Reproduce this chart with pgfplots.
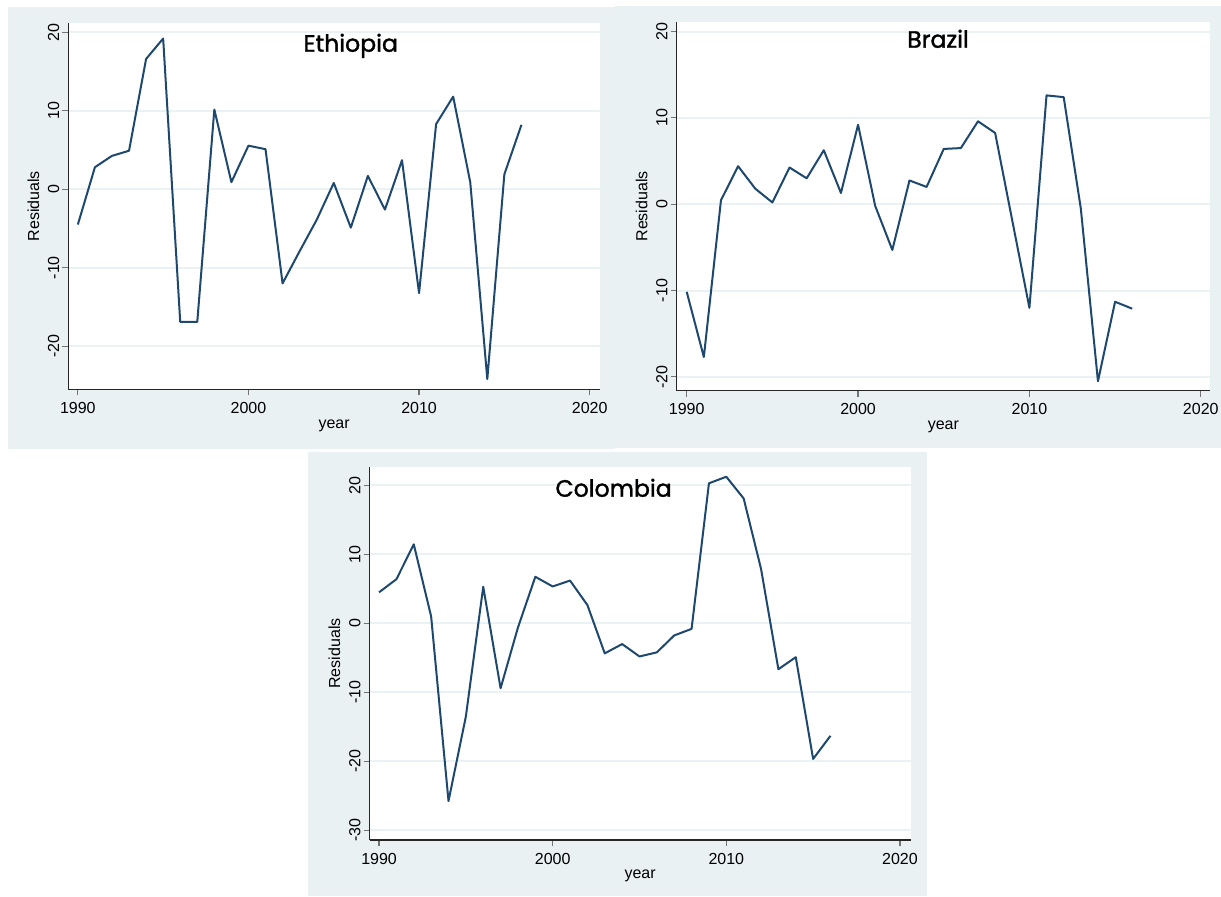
\documentclass[border=0pt]{standalone}
\usepackage{fontspec}
\setmainfont{Liberation Sans}
\newfontfamily\titlefont[FakeBold=1.5]{Poppins}
\usepackage{pgfplots}
\pgfplotsset{compat=1.18}
\definecolor{bgc}{RGB}{233,241,243}
\definecolor{gridc}{RGB}{234,242,243}
\definecolor{stnavy}{RGB}{30,72,110}
\pgfplotsset{stata/.style={
  scale only axis, anchor=north west,
  axis x line*=bottom, axis y line*=left,
  axis line style={black!85, line width=0.7pt},
  axis background/.style={fill=white},
  tick align=outside, major tick length=3pt,
  tick style={black!55, line width=0.6pt},
  xtick={1990,2000,2010,2020},
  x tick label style={/pgf/number format/1000 sep={}},
  ymajorgrids, grid style={gridc, line width=1pt},
  font=\fontsize{8}{9}\selectfont,
  ticklabel style={font=\fontsize{8}{9}\selectfont},
  /pgf/number format/assume math mode=true,
  yticklabel style={rotate=90, anchor=south, yshift=-2pt},
  ylabel=Residuals, xlabel=year,
  ylabel style={yshift=-2.5pt},
  xlabel style={yshift=4pt},
  cycle list={{stnavy, no markers}},
  every axis plot post/.append style={line width=1pt, line join=round},
}}
\begin{document}
\begin{tikzpicture}
\useasboundingbox (0,0) rectangle (610.5pt,-448pt);
\fill[white] (0,0) rectangle (610.5pt,-448pt);
\fill[bgc] (4pt,-3.5pt) rectangle (307.5pt,-224.5pt);
\fill[bgc] (307.5pt,-3pt) rectangle (610.5pt,-224pt);
\fill[bgc] (154pt,-226pt) rectangle (463.5pt,-448pt);

% Ethiopia
\begin{axis}[stata, at={(34.15pt,-11.5pt)}, width=265.8pt, height=183.15pt,
  xmin=1989.44, xmax=2020.6, ymin=-25.5, ymax=21.18, ytick={-20,-10,0,10,20}]
\addplot coordinates {
(1990,-4.5) (1991,2.8) (1992,4.25) (1993,4.9) (1994,16.6) (1995,19.2)
(1996,-16.9) (1997,-16.9) (1998,10.15) (1999,0.9) (2000,5.55) (2001,5.1)
(2002,-12.0) (2003,-7.9) (2004,-3.9) (2005,0.8) (2006,-4.9) (2007,1.7)
(2008,-2.6) (2009,3.7) (2010,-13.25) (2011,8.3) (2012,11.8) (2013,0.9)
(2014,-24.2) (2015,1.9) (2016,8.2)};
\end{axis}

% Brazil
\begin{axis}[stata, at={(338.3pt,-11pt)}, width=266.7pt, height=184.35pt,
  xmin=1989.41, xmax=2020.54, ymin=-21.6, ymax=21.1, ytick={-20,-10,0,10,20}]
\addplot coordinates {
(1990,-10.15) (1991,-17.7) (1992,0.46) (1993,4.4) (1994,1.8) (1995,0.2)
(1996,4.25) (1997,3.0) (1998,6.25) (1999,1.3) (2000,9.2) (2001,-0.2)
(2002,-5.3) (2003,2.75) (2004,2.0) (2005,6.4) (2006,6.5) (2007,9.6)
(2008,8.25) (2009,-1.9) (2010,-12.0) (2011,12.6) (2012,12.4) (2013,-0.5)
(2014,-20.5) (2015,-11.3) (2016,-12.1)};
\end{axis}

% Colombia
\begin{axis}[stata, at={(184.75pt,-233.5pt)}, width=270.6pt, height=186.5pt,
  xmin=1989.45, xmax=2020.62, ymin=-31.4, ymax=22.66, ytick={-30,-20,-10,0,10,20}]
\addplot coordinates {
(1990,4.5) (1991,6.4) (1992,11.45) (1993,1.0) (1994,-25.75) (1995,-13.5)
(1996,5.3) (1997,-9.4) (1998,-0.6) (1999,6.75) (2000,5.35) (2001,6.2)
(2002,2.65) (2003,-4.35) (2004,-3.0) (2005,-4.8) (2006,-4.2) (2007,-1.75)
(2008,-0.8) (2009,20.3) (2010,21.25) (2011,18.1) (2012,7.9) (2013,-6.65)
(2014,-4.9) (2015,-19.65) (2016,-16.3)};
\end{axis}

\node[font=\titlefont\fontsize{11.8}{14}\selectfont, anchor=base] at (175.35pt,-25.85pt) {Ethiopia};
\node[font=\titlefont\fontsize{11.8}{14}\selectfont, anchor=base] at (469pt,-23.85pt) {Brazil};
\node[font=\titlefont\fontsize{11.8}{14}\selectfont, anchor=base] at (306.8pt,-248.35pt) {Colombia};
\end{tikzpicture}
\end{document}
